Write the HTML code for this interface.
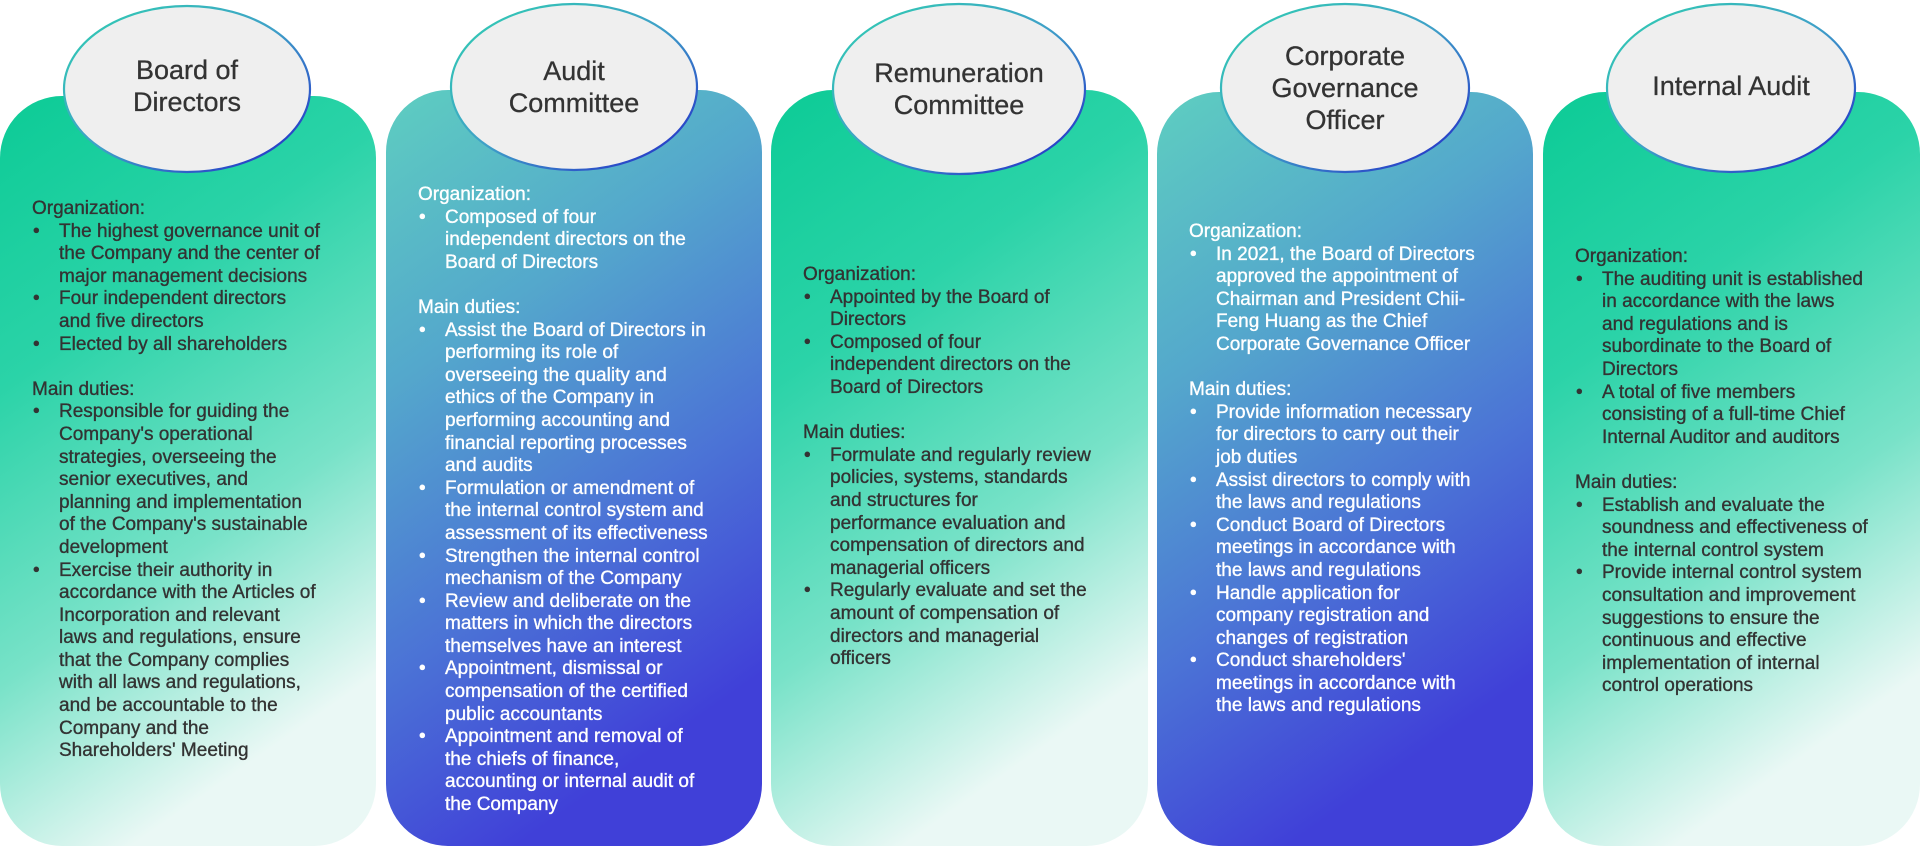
<!DOCTYPE html>
<html><head><meta charset="utf-8"><style>
html,body{margin:0;padding:0;background:#fff;width:1920px;height:847px;overflow:hidden}
body{position:relative;font-family:"Liberation Sans","DejaVu Sans",sans-serif}
svg{position:absolute;left:0;top:0}
.t{position:absolute;font-size:19px;line-height:22.6px;white-space:nowrap;-webkit-text-stroke:0.35px currentColor}
.t .li{position:relative;padding-left:27px}
.t .li:before{content:"•";position:absolute;left:1px;top:0}
.dark{color:#333}.white{color:#fff}
.ttl{position:absolute;width:250px;text-align:center;font-size:27px;line-height:32px;color:#333;-webkit-text-stroke:0.3px #333}
</style></head><body>
<svg width="1920" height="847" viewBox="0 0 1920 847">
<defs>
<linearGradient id="g" x1="0" y1="0" x2="0.35" y2="1">
<stop offset="0" stop-color="#0ccb96"/><stop offset="0.35" stop-color="#2bd3a8"/><stop offset="0.7" stop-color="#78e2c8"/><stop offset="1" stop-color="#eaf8f5"/></linearGradient>
<linearGradient id="b" x1="0" y1="0" x2="0.35" y2="1">
<stop offset="0" stop-color="#5ecec0"/><stop offset="0.35" stop-color="#54a8cc"/><stop offset="0.7" stop-color="#4b72d6"/><stop offset="1" stop-color="#4040d8"/></linearGradient>
<linearGradient id="s" x1="0" y1="0" x2="1" y2="1">
<stop offset="0" stop-color="#2fd0b0"/><stop offset="0.5" stop-color="#3fa0c8"/><stop offset="1" stop-color="#2020c8"/></linearGradient>
</defs>
<rect x="0" y="96" width="376" height="750" rx="62" fill="url(#g)"/>
<rect x="386" y="90" width="376" height="756" rx="62" fill="url(#b)"/>
<rect x="771" y="90" width="377" height="756" rx="62" fill="url(#g)"/>
<rect x="1157" y="92" width="376" height="754" rx="62" fill="url(#b)"/>
<rect x="1543" y="92" width="377" height="754" rx="62" fill="url(#g)"/>
<g fill="#efefef" stroke="url(#s)" stroke-width="2.2">
<ellipse cx="187" cy="89" rx="123" ry="83"/>
<ellipse cx="574" cy="87" rx="123" ry="83"/>
<ellipse cx="959" cy="89" rx="126" ry="85"/>
<ellipse cx="1345" cy="88" rx="124" ry="84"/>
<ellipse cx="1731" cy="88" rx="124" ry="84"/>
</g>
</svg>
<div class="ttl" style="left:62px;top:54px">Board of<br>Directors</div>
<div class="ttl" style="left:449px;top:55px">Audit<br>Committee</div>
<div class="ttl" style="left:834px;top:57px">Remuneration<br>Committee</div>
<div class="ttl" style="left:1220px;top:40px">Corporate<br>Governance<br>Officer</div>
<div class="ttl" style="left:1606px;top:70px">Internal Audit</div>

<div class="t dark" style="left:32px;top:198px">Organization:
<div class="li">The highest governance unit of<br>the Company and the center of<br>major management decisions</div>
<div class="li">Four independent directors<br>and five directors</div>
<div class="li">Elected by all shareholders</div>
<br>Main duties:
<div class="li">Responsible for guiding the<br>Company's operational<br>strategies, overseeing the<br>senior executives, and<br>planning and implementation<br>of the Company's sustainable<br>development</div>
<div class="li">Exercise their authority in<br>accordance with the Articles of<br>Incorporation and relevant<br>laws and regulations, ensure<br>that the Company complies<br>with all laws and regulations,<br>and be accountable to the<br>Company and the<br>Shareholders' Meeting</div>
</div>

<div class="t white" style="left:418px;top:184px">Organization:
<div class="li">Composed of four<br>independent directors on the<br>Board of Directors</div>
<br>Main duties:
<div class="li">Assist the Board of Directors in<br>performing its role of<br>overseeing the quality and<br>ethics of the Company in<br>performing accounting and<br>financial reporting processes<br>and audits</div>
<div class="li">Formulation or amendment of<br>the internal control system and<br>assessment of its effectiveness</div>
<div class="li">Strengthen the internal control<br>mechanism of the Company</div>
<div class="li">Review and deliberate on the<br>matters in which the directors<br>themselves have an interest</div>
<div class="li">Appointment, dismissal or<br>compensation of the certified<br>public accountants</div>
<div class="li">Appointment and removal of<br>the chiefs of finance,<br>accounting or internal audit of<br>the Company</div>
</div>

<div class="t dark" style="left:803px;top:264px">Organization:
<div class="li">Appointed by the Board of<br>Directors</div>
<div class="li">Composed of four<br>independent directors on the<br>Board of Directors</div>
<br>Main duties:
<div class="li">Formulate and regularly review<br>policies, systems, standards<br>and structures for<br>performance evaluation and<br>compensation of directors and<br>managerial officers</div>
<div class="li">Regularly evaluate and set the<br>amount of compensation of<br>directors and managerial<br>officers</div>
</div>

<div class="t white" style="left:1189px;top:221px">Organization:
<div class="li">In 2021, the Board of Directors<br>approved the appointment of<br>Chairman and President Chii-<br>Feng Huang as the Chief<br>Corporate Governance Officer</div>
<br>Main duties:
<div class="li">Provide information necessary<br>for directors to carry out their<br>job duties</div>
<div class="li">Assist directors to comply with<br>the laws and regulations</div>
<div class="li">Conduct Board of Directors<br>meetings in accordance with<br>the laws and regulations</div>
<div class="li">Handle application for<br>company registration and<br>changes of registration</div>
<div class="li">Conduct shareholders'<br>meetings in accordance with<br>the laws and regulations</div>
</div>

<div class="t dark" style="left:1575px;top:246px">Organization:
<div class="li">The auditing unit is established<br>in accordance with the laws<br>and regulations and is<br>subordinate to the Board of<br>Directors</div>
<div class="li">A total of five members<br>consisting of a full-time Chief<br>Internal Auditor and auditors</div>
<br>Main duties:
<div class="li">Establish and evaluate the<br>soundness and effectiveness of<br>the internal control system</div>
<div class="li">Provide internal control system<br>consultation and improvement<br>suggestions to ensure the<br>continuous and effective<br>implementation of internal<br>control operations</div>
</div>
</body></html>
